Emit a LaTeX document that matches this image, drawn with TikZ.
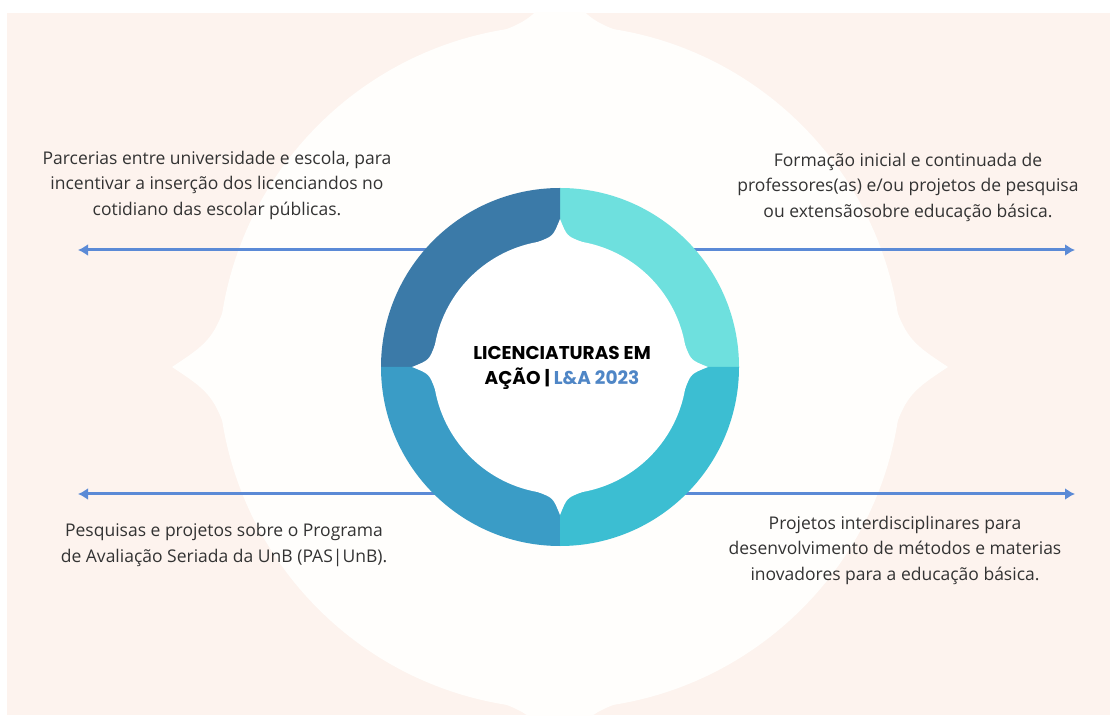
\documentclass[tikz,border=0pt]{standalone}
\usepackage{fontspec}
\setmainfont{Open Sans}
\newfontfamily\titlefont{Poppins}
\usetikzlibrary{arrows.meta,calc}
\definecolor{peach}{HTML}{FDF3EE}
\definecolor{starwhite}{HTML}{FFFEFC}
\definecolor{segdark}{HTML}{3B7AA8}
\definecolor{segaqua}{HTML}{6EE0DE}
\definecolor{segblue}{HTML}{3A9CC6}
\definecolor{segcyan}{HTML}{3CBED2}
\definecolor{linkblue}{HTML}{5B8AD6}
\definecolor{titleblue}{HTML}{4F86C6}
\definecolor{bodytext}{HTML}{333333}
\tikzset{
  link/.style={linkblue, line width=3pt},
  blurb/.style={align=center, text=bodytext, font=\fontsize{17.5}{25.5}\selectfont},
}

\begin{document}
\begin{tikzpicture}[x=1pt,y=1pt]
\useasboundingbox (0,0) rectangle (1110,715);
\fill[white] (0,0) rectangle (1110,715);
\fill[peach] (7,0) rectangle (1110,702);
\begin{scope}
\clip (7,0) rectangle (1110,702);
\begin{scope}[shift={(560,348)}]
\fill[starwhite] (0,0) circle (342);
\foreach \a in {0,90,180,270}
  \fill[starwhite] (0,0) -- (\a-21:340) .. controls (\a-5:344) .. (\a:388)
    .. controls (\a+5:344) .. (\a+21:340) -- cycle;
\end{scope}
\end{scope}

\node[circle, minimum size=358pt, inner sep=0pt] (ring) at (560,348) {};
\coordinate (tl) at (78,465);
\coordinate (tr) at (1075,465);
\coordinate (bl) at (78,221);
\coordinate (br) at (1075,221);
\draw[link,{Latex[length=10pt,width=12pt]}-] (tl) -- ($(ring.center)+(-100,117)$);
\draw[link,-{Latex[length=10pt,width=12pt]}] ($(ring.center)+(100,117)$) -- (tr);
\draw[link,{Latex[length=10pt,width=12pt]}-] (bl) -- ($(ring.center)+(-100,-127)$);
\draw[link,-{Latex[length=10pt,width=12pt]}] ($(ring.center)+(100,-127)$) -- (br);

\foreach \s/\c in {0/segaqua,90/segdark,180/segblue,270/segcyan}
  \fill[\c] (ring.center) -- ++(\s:179) arc[start angle=\s, delta angle=90, radius=179] -- cycle;
\begin{scope}[shift={(ring.center)}]
\fill[white] (0,0) circle (127);
\foreach \a in {0,90,180,270}
  \fill[white] (0,0) -- (\a-10:127) .. controls (\a-3:131) .. (\a:148)
    .. controls (\a+3:131) .. (\a+10:127) -- cycle;
\end{scope}

\node[align=center, font=\titlefont\bfseries\fontsize{18.5}{24.5}\selectfont] (title) at (562,347)
  {LICENCIATURAS EM\\AÇÃO | \textcolor{titleblue}{L\&A 2023}};

\node[blurb] (parcerias) at (217,530) {Parcerias entre universidade e escola, para\\incentivar a inserção dos licenciandos no\\cotidiano das escolar públicas.};
\node[blurb] (formacao) at (908,528) {Formação inicial e continuada de\\professores(as) e/ou projetos de pesquisa\\ou extensãosobre educação básica.};
\node[blurb] (pesquisas) at (224,170) {Pesquisas e projetos sobre o Programa\\de Avaliação Seriada da UnB (PAS|UnB).};
\node[blurb] (projetos) at (895,165) {Projetos interdisciplinares para\\desenvolvimento de métodos e materias\\inovadores para a educação básica.};
\end{tikzpicture}
\end{document}
